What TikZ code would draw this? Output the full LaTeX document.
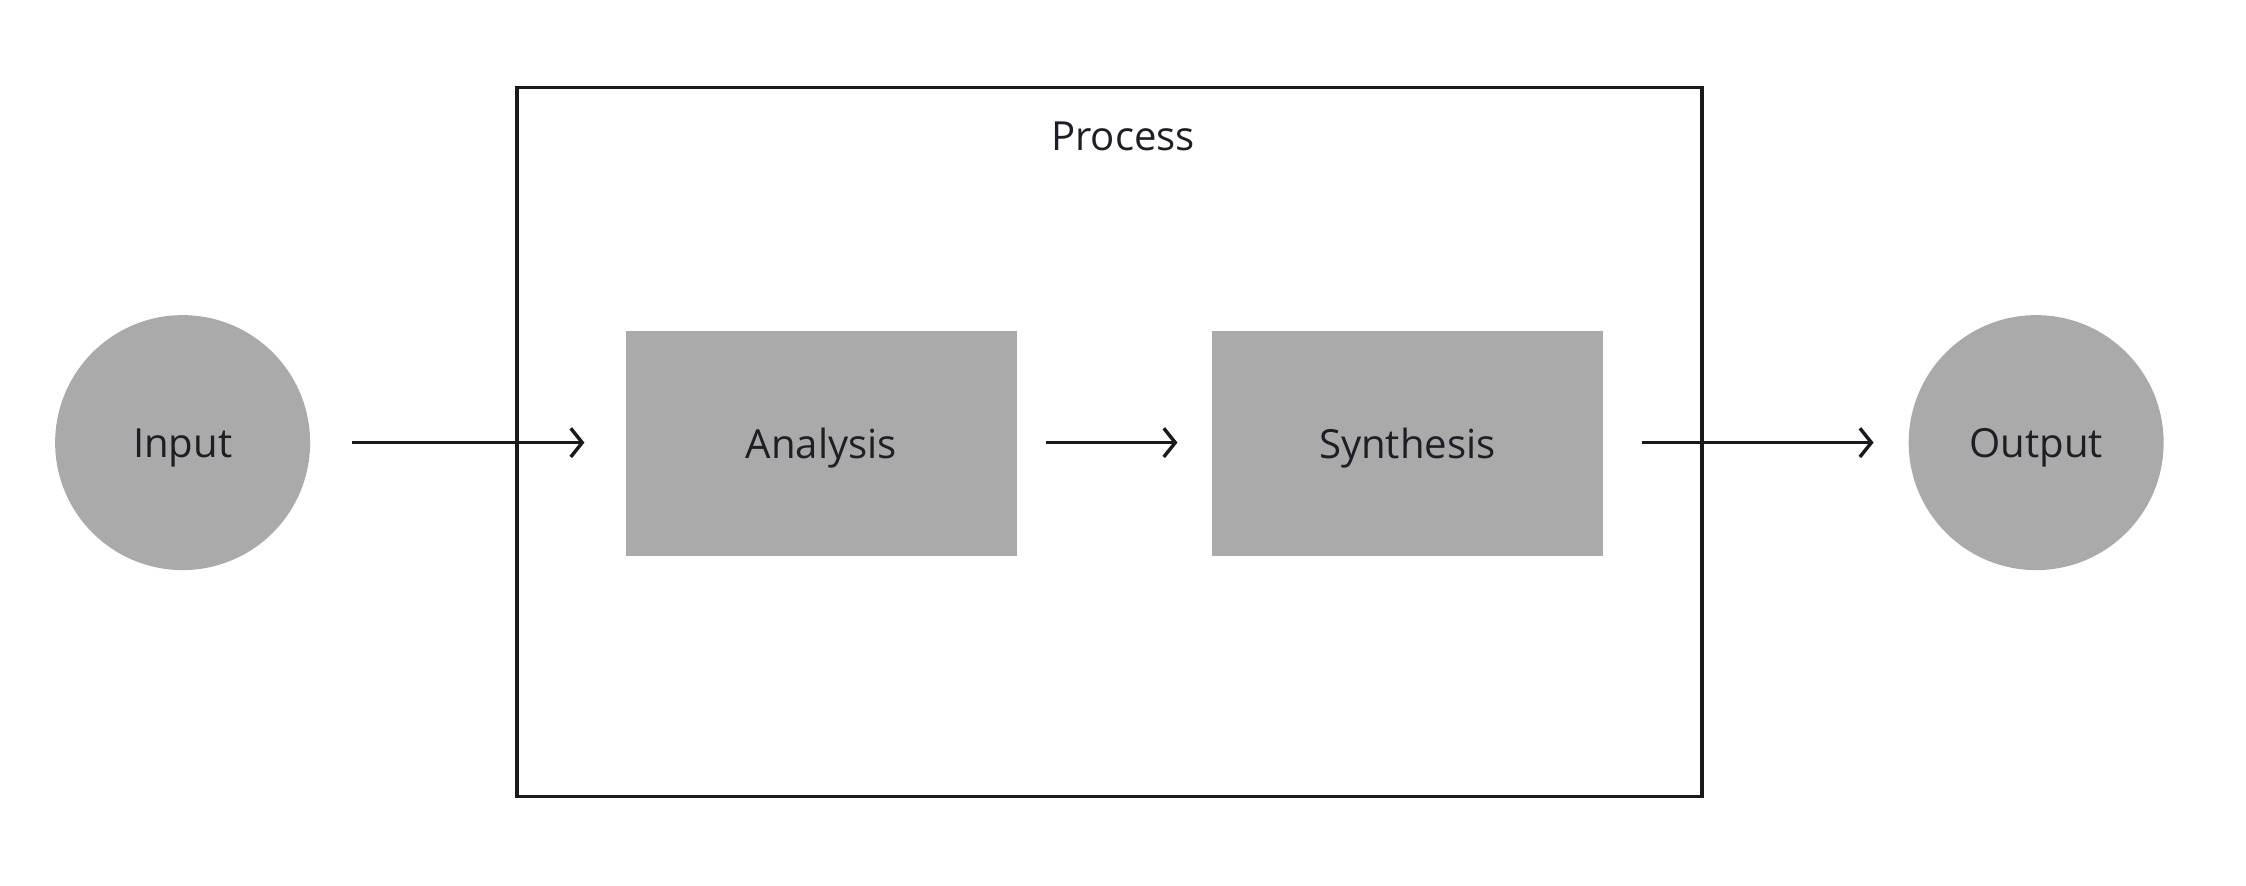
\documentclass[tikz,border=0pt]{standalone}
\usepackage{fontspec}
\setmainfont{Open Sans}
\usetikzlibrary{arrows.meta}
\definecolor{txt}{HTML}{1E1F26}
\definecolor{ln}{HTML}{1A1A1E}
\definecolor{gfill}{HTML}{AAAAAA}
\begin{document}
\begin{tikzpicture}[x=1pt,y=-1pt,
  lbl/.style={font=\fontsize{28}{32}\selectfont, text=txt},
  inlbl/.style={lbl, text height=21pt, text depth=0pt},
  circ/.style={circle, fill=gfill, minimum size=178pt, inner sep=0pt, inlbl},
  blk/.style={rectangle, fill=gfill, minimum width=273pt, minimum height=157pt, inner sep=0pt, inlbl},
  conn/.style={draw=ln, line width=2.4pt, -{Straight Barb[length=8pt,width=20pt,line width=2.4pt]}}
]
\useasboundingbox (0,0) rectangle (1568,618);
\node[draw=ln, line width=2.5pt, minimum width=827pt, minimum height=495pt, inner sep=0pt] (proc) at (774.5,308.5) {};
\node[lbl] (proclbl) at (784,95.5) {Process};
\node[circ] (in) at (127.5,309) {Input};
\node[circ] (out) at (1421.5,309) {Output};
\node[blk] (an) at (573.5,309.5) {Analysis};
\node[blk] (sy) at (982.5,309.5) {Synthesis};
\coordinate (a1) at (246,309);
\coordinate (a2) at (408,309);
\coordinate (b1) at (730,309);
\coordinate (b2) at (822,309);
\coordinate (c1) at (1146,309);
\coordinate (c2) at (1308,309);
\draw[conn] (a1) -- (a2);
\draw[conn] (b1) -- (b2);
\draw[conn] (c1) -- (c2);
\end{tikzpicture}
\end{document}
